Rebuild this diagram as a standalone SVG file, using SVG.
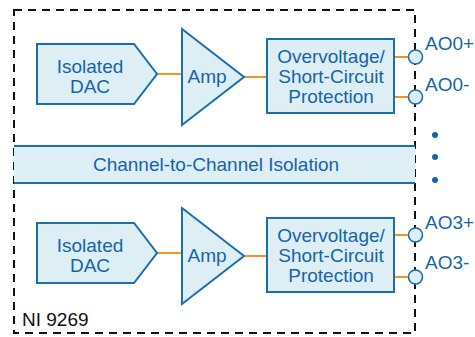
<svg xmlns="http://www.w3.org/2000/svg" width="475" height="337" viewBox="0 0 475 337">
<style>
.blk{fill:#ddeef5;stroke:#1b6fae;stroke-width:2}
.wire{stroke:#f7941d;stroke-width:2;fill:none}
.t{font-family:"Liberation Sans",Arial,sans-serif;font-size:19px;fill:#1565a8;text-anchor:middle}
.lbl{font-family:"Liberation Sans",Arial,sans-serif;font-size:19px;fill:#1565a8}
.pin{fill:#ddeef5;stroke:#1b6fae;stroke-width:1.6}
.dot{fill:#1565a8}
</style>
<rect width="475" height="337" fill="#ffffff"/>
<g id="border">
<rect x="14" y="10" width="401" height="323" fill="none" stroke="#111" stroke-width="2" stroke-dasharray="8,6"/>
<text x="22" y="326" font-family="Liberation Sans,Arial,sans-serif" font-size="19" fill="#111">NI 9269</text>
</g>
<g id="isolation">
<rect x="14" y="146" width="401" height="37" fill="#ddeef5"/>
<line x1="14" y1="146" x2="415" y2="146" stroke="#1b6fae" stroke-width="2"/>
<line x1="14" y1="183" x2="415" y2="183" stroke="#1b6fae" stroke-width="2"/>
<text class="t" x="216" y="171">Channel-to-Channel Isolation</text>
</g>
<g id="connectors">
<line class="wire" x1="157" y1="74" x2="182" y2="74"/>
<line class="wire" x1="244" y1="77" x2="267" y2="77"/>
<line class="wire" x1="394" y1="57" x2="408" y2="57"/>
<line class="wire" x1="394" y1="97" x2="408" y2="97"/>
<line class="wire" x1="157" y1="253" x2="182" y2="253"/>
<line class="wire" x1="244" y1="256" x2="267" y2="256"/>
<line class="wire" x1="394" y1="235" x2="408" y2="235"/>
<line class="wire" x1="394" y1="277" x2="408" y2="277"/>
</g>
<g id="dac0">
<polygon class="blk" points="37,44 134,44 157,74 134,104 37,104"/>
<text class="t" x="90" y="73">Isolated</text>
<text class="t" x="90" y="93">DAC</text>
</g>
<g id="amp0">
<polygon class="blk" points="182,29 244,77 182,125"/>
<text class="t" x="207" y="83">Amp</text>
</g>
<g id="prot0">
<rect class="blk" x="267" y="39" width="127" height="74"/>
<text class="t" x="331" y="63">Overvoltage/</text>
<text class="t" x="331" y="83">Short-Circuit</text>
<text class="t" x="331" y="103">Protection</text>
</g>
<g id="pins0">
<circle class="pin" cx="415.5" cy="57" r="7"/>
<circle class="pin" cx="415.5" cy="97" r="7"/>
<text class="lbl" x="425" y="50">AO0+</text>
<text class="lbl" x="425" y="91">AO0-</text>
</g>
<g id="dots">
<circle class="dot" cx="435" cy="135" r="3"/>
<circle class="dot" cx="435" cy="157" r="3"/>
<circle class="dot" cx="435" cy="180" r="3"/>
</g>
<g id="dac3">
<polygon class="blk" points="37,223 134,223 157,253 134,283 37,283"/>
<text class="t" x="90" y="252">Isolated</text>
<text class="t" x="90" y="272">DAC</text>
</g>
<g id="amp3">
<polygon class="blk" points="182,208 244,256 182,304"/>
<text class="t" x="207" y="262">Amp</text>
</g>
<g id="prot3">
<rect class="blk" x="267" y="218" width="127" height="74"/>
<text class="t" x="331" y="242">Overvoltage/</text>
<text class="t" x="331" y="262">Short-Circuit</text>
<text class="t" x="331" y="282">Protection</text>
</g>
<g id="pins3">
<circle class="pin" cx="415.5" cy="235" r="7"/>
<circle class="pin" cx="415.5" cy="277" r="7"/>
<text class="lbl" x="425" y="229">AO3+</text>
<text class="lbl" x="425" y="269">AO3-</text>
</g>
</svg>
